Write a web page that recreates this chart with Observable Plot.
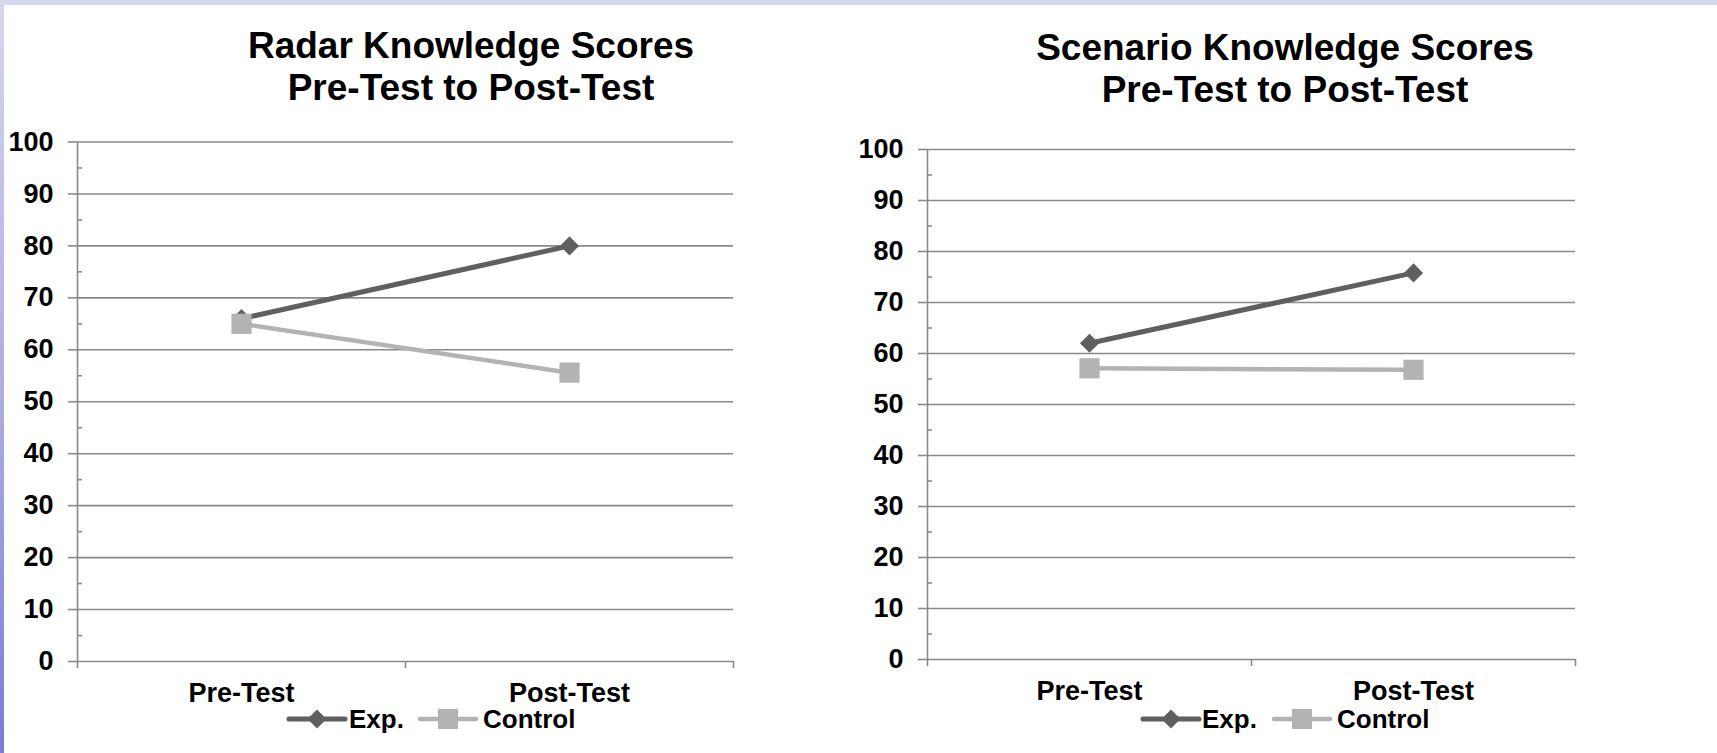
<!DOCTYPE html>
<html>
<head>
<meta charset="utf-8">
<script src="https://cdn.jsdelivr.net/npm/d3@7"></script>
<script src="https://cdn.jsdelivr.net/npm/@observablehq/plot@0.6"></script>
<style>
  html, body { margin: 0; padding: 0; background: #fff; }
  #root { position: relative; width: 1717px; height: 753px; overflow: hidden; background: #fff;
          font-family: "Liberation Sans", Arial, sans-serif; font-weight: bold; color: #000; }
  #topband { position: absolute; left: 0; top: 0; width: 1717px; height: 5px; background: #d4d8ef; }
  #leftband { position: absolute; left: 0; top: 0; width: 4px; height: 753px;
              background: linear-gradient(#d4d8ef, #a9abe4 55%, #7c7ad6); }
  .title { position: absolute; width: 700px; text-align: center; font-size: 37px; line-height: 42px; }
  .chart { position: absolute; top: 0; }
  .leg { position: absolute; font-size: 26px; line-height: 30px; white-space: nowrap; }
  .sw { position: absolute; }
</style>
</head>
<body>
<div id="root">
  <div id="topband"></div>
  <div id="leftband"></div>
</div>
<script>
// ---- data ----
const categories = ["Pre-Test", "Post-Test"];
const seriesNames = ["Exp.", "Control"];
const radarExp = [66, 80];
const radarControl = [65, 55.6];
const scenarioExp = [62, 75.8];
const scenarioControl = [57.1, 56.8];
const yTicks = [0, 10, 20, 30, 40, 50, 60, 70, 80, 90, 100];
const yMinorTicks = [5, 15, 25, 35, 45, 55, 65, 75, 85, 95];
const titles = [
  ["Radar Knowledge Scores", "Pre-Test to Post-Test"],
  ["Scenario Knowledge Scores", "Pre-Test to Post-Test"]
];
const colors = {"Exp.": "#5f5f5f", "Control": "#b3b3b3"};
const symbols = {"Exp.": "diamond2", "Control": "square"};
const gridColor = "#8a8a8a";

const root = document.getElementById("root");

function rowsFor(exp, ctl) {
  const rows = [];
  [exp, ctl].forEach((vals, s) => {
    vals.forEach((v, i) => rows.push({series: seriesNames[s], x: i + 0.5, cat: categories[i], value: v}));
  });
  return rows;
}

function makeChart(exp, ctl, cfg) {
  const rows = rowsFor(exp, ctl);
  const marks = [
    Plot.gridY(yTicks, {stroke: gridColor, strokeOpacity: 1, strokeWidth: 1.6}),
    Plot.axisY(yTicks, {tickSize: 9, tickPadding: 15, stroke: gridColor, strokeWidth: 1.6,
                        fontSize: 27, fontWeight: "bold", fill: "#000", label: null}),
    Plot.axisY(yMinorTicks, {tickSize: 5, dx: 5, stroke: gridColor, strokeWidth: 1.6,
                             tickFormat: () => "", label: null}),
    Plot.axisX(d3.range(categories.length + 1), {tickSize: 7, stroke: gridColor, strokeWidth: 1.6,
                             tickFormat: () => "", label: null}),
    Plot.axisX(categories.map((c, i) => i + 0.5), {tickSize: 0, tickPadding: 21,
                             tickFormat: d => categories[Math.round(d - 0.5)],
                             fontSize: 27, fontWeight: "bold", fill: "#000", label: null}),
    Plot.ruleX([0], {stroke: gridColor, strokeWidth: 1.6})
  ];
  for (const s of seriesNames) {
    const data = rows.filter(r => r.series === s);
    marks.push(Plot.line(data, {x: "x", y: "value", stroke: colors[s], strokeWidth: s === "Exp." ? 5 : 4.5}));
    marks.push(Plot.dot(data, {x: "x", y: "value", symbol: symbols[s], fill: colors[s], stroke: "none",
                               r: s === "Exp." ? 8.6 : 11.4}));
  }
  const svg = Plot.plot({
    width: cfg.width,
    height: 753,
    marginLeft: cfg.marginLeft,
    marginRight: cfg.marginRight,
    marginTop: cfg.marginTop,
    marginBottom: cfg.marginBottom,
    x: {type: "linear", domain: [0, categories.length], axis: null},
    y: {type: "linear", domain: [0, 100], axis: null},
    style: {fontFamily: '"Liberation Sans", Arial, sans-serif', fontWeight: "bold", color: "#000", background: "transparent", overflow: "visible"},
    marks
  });
  svg.classList.add("chart");
  svg.style.left = cfg.left + "px";
  svg.style.position = "absolute";
  svg.style.top = "0px";
  root.appendChild(svg);

  // title
  const t = document.createElement("div");
  t.className = "title";
  t.style.left = (cfg.titleX - 350) + "px";
  t.style.top = cfg.titleTop + "px";
  t.innerHTML = cfg.title.map(l => `<div>${l}</div>`).join("");
  root.appendChild(t);

  // legend
  cfg.legend.forEach((lg, k) => {
    const s = seriesNames[k];
    const sw = document.createElementNS("http://www.w3.org/2000/svg", "svg");
    sw.setAttribute("width", 62); sw.setAttribute("height", 24);
    sw.setAttribute("class", "sw");
    sw.style.left = lg.sx + "px"; sw.style.top = (719 - 12) + "px";
    const shape = s === "Exp."
      ? `<path d="M31,2.5L40.5,12L31,21.5L21.5,12Z" fill="${colors[s]}"/>`
      : `<rect x="21" y="2" width="20" height="20" fill="${colors[s]}"/>`;
    sw.innerHTML = `<line x1="3" y1="12" x2="59" y2="12" stroke="${colors[s]}" stroke-width="${s === "Exp." ? 5 : 4.5}" stroke-linecap="round"/>` + shape;
    root.appendChild(sw);
    const tx = document.createElement("div");
    tx.className = "leg";
    tx.style.left = lg.tx + "px";
    tx.style.top = (719 - 15) + "px";
    tx.textContent = s;
    root.appendChild(tx);
  });
}

makeChart(radarExp, radarControl, {
  left: 0, width: 860, marginLeft: 77, marginRight: 127, marginTop: 141.5, marginBottom: 92,
  titleX: 471, titleTop: 25, title: titles[0],
  legend: [{sx: 286, tx: 349}, {sx: 417, tx: 483}]
});
makeChart(scenarioExp, scenarioControl, {
  left: 860, width: 857, marginLeft: 67, marginRight: 142, marginTop: 149, marginBottom: 94,
  titleX: 1285, titleTop: 27, title: titles[1],
  legend: [{sx: 1140, tx: 1202}, {sx: 1271, tx: 1337}]
});
</script>
</body>
</html>
